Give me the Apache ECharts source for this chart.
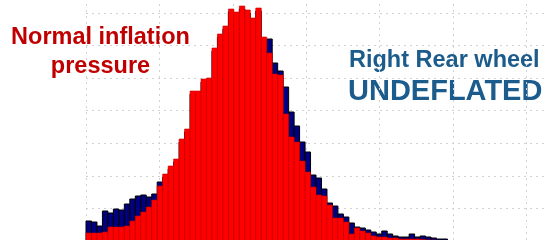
<!DOCTYPE html>
<html>
<head>
<meta charset="utf-8">
<script src="https://cdn.jsdelivr.net/npm/echarts@6/dist/echarts.min.js"></script>
<style>
html, body { margin: 0; padding: 0; background: #fff; overflow: hidden; }
/* chart canvas is a bit larger than the window so the outer grid edges fall outside */
#hist { position: absolute; left: 0; top: -20px; width: 557px; height: 261px; }
</style>
</head>
<body>
<div id="hist"></div>
<script>
// histogram counts per bin, left to right (66 bins)
var normalPressure = [
  8, 8, 8, 9, 14, 14, 14, 15, 20, 25,
  29, 34, 41, 55, 67, 75, 82, 102, 112, 150,
  150, 162, 163, 193, 207, 215, 232, 229, 235, 231,
  223, 233, 204, 188, 167, 166, 127, 104, 99, 80,
  69, 54, 46, 45, 36, 23, 23, 19, 7, 13,
  10, 8, 5, 4, 4, 3, 3, 2, 2, 2,
  2, 1.5, 1, 1, 0.5, 0.5
];
var rightRearUndeflated = [
  20, 19, 15, 30, 28, 32, 31, 37, 42, 45,
  46, 44, 47, 59, 64, 72, 79, 99, 109, 147,
  147, 159, 160, 190, 204, 212, 229, 226, 232, 228,
  220, 230, 201, 202, 178, 170, 154, 129, 115, 99,
  89, 66, 63, 52, 38, 35, 27, 24, 18, 14,
  13, 11, 9, 7, 10, 7, 5, 4, 4, 7,
  4, 5, 4, 3, 2, 2
];
var labelLeft = ['Normal inflation', 'pressure'];
var labelRight = ['Right Rear wheel', 'UNDEFLATED'];

function toBins(arr) {
  var out = [];
  arr.forEach(function (v, i) { out.push([i, v]); });
  return out;
}

// each bin is drawn from i to i+1 on the x scale
function renderBin(params, api) {
  var i = api.value(0);
  var top = api.coord([i, api.value(1)]);
  var base = api.coord([i + 1, 0]);
  return {
    type: 'rect',
    shape: { x: top[0], y: top[1], width: base[0] - top[0], height: base[1] - top[1] },
    style: api.style()
  };
}

var gridLine = { show: true, lineStyle: { color: '#d2d2d2', width: 1, type: [2, 4] } };
var redFont = 'bold 23.5px "Liberation Sans", Arial, sans-serif';

var chart = echarts.init(document.getElementById('hist'));
chart.setOption({
  animation: false,
  grid: { left: 86, right: 0, top: 0, bottom: 0 },
  xAxis: {
    type: 'value', min: 0, max: 86, interval: 13.4,
    axisLine: { show: false }, axisTick: { show: false }, axisLabel: { show: false },
    splitLine: gridLine
  },
  yAxis: {
    type: 'value', min: 0, max: 261, interval: 32.6,
    axisLine: { show: false }, axisTick: { show: false }, axisLabel: { show: false },
    splitLine: gridLine
  },
  series: [
    {
      name: 'undeflated',
      type: 'custom',
      renderItem: renderBin,
      data: toBins(rightRearUndeflated),
      itemStyle: { color: '#000080', borderColor: '#000000', borderWidth: 1 }
    },
    {
      name: 'normal',
      type: 'custom',
      renderItem: renderBin,
      data: toBins(normalPressure),
      itemStyle: { color: '#ff0000', borderColor: '#c80000', borderWidth: 0.6 }
    }
  ],
  graphic: [
    { type: 'text', style: { x: 100.5, y: 58, text: labelLeft[0], fill: '#c00000',
      font: redFont, textAlign: 'center', textVerticalAlign: 'middle' } },
    { type: 'text', style: { x: 100.5, y: 87, text: labelLeft[1], fill: '#c00000',
      font: redFont, textAlign: 'center', textVerticalAlign: 'middle' } },
    { type: 'text', style: { x: 349, y: 81, text: labelRight[0], fill: '#1b5c8c',
      font: 'bold 23.5px "Liberation Sans", Arial, sans-serif', textAlign: 'left', textVerticalAlign: 'middle' } },
    { type: 'text', style: { x: 348, y: 111.5, text: labelRight[1], fill: '#1b5c8c',
      font: 'bold 29px "Liberation Sans", Arial, sans-serif', textAlign: 'left', textVerticalAlign: 'middle' } }
  ]
});
</script>
</body>
</html>
